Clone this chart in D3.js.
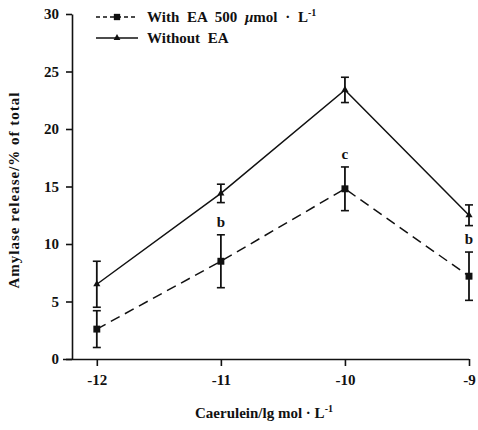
<!DOCTYPE html>
<html>
<head>
<meta charset="utf-8">
<script src="https://cdn.jsdelivr.net/npm/d3@7"></script>
<style>
  body { margin: 0; background: #fff; }
  text { font-family: "Liberation Serif", "Times New Roman", serif; font-weight: bold; fill: #111; }
</style>
</head>
<body>
<div id="chart"></div>
<script>
// Caerulein dose (lg mol/L)
const doses = [-12, -11, -10, -9];

// Amylase release, % of total
const withEA = [2.6, 8.5, 14.8, 7.2];
const withEAErr = [1.6, 2.3, 1.9, 2.1];
const withoutEA = [6.5, 14.4, 23.4, 12.5];
const withoutEAErr = [2.0, 0.8, 1.1, 0.9];

// significance letters over the EA series
const sigLabels = ["", "b", "c", "b"];

const yTicks = [0, 5, 10, 15, 20, 25, 30];
const xTicks = [-12, -11, -10, -9];

const width = 478, height = 430;

const svg = d3.select("#chart").append("svg")
  .attr("width", width)
  .attr("height", height);

const x = d3.scaleLinear().domain([-12.2, -9]).range([72, 469]);
const y = d3.scaleLinear().domain([0, 30]).range([359, 14]);

// y axis
const yAxis = svg.append("g")
  .attr("transform", "translate(72,0)")
  .call(d3.axisLeft(y).tickValues(yTicks).tickSize(6).tickSizeOuter(0).tickPadding(7));
yAxis.selectAll("text").style("font-size", "15px").attr("font-family", null);

// x axis
const xAxis = svg.append("g")
  .attr("transform", "translate(0,359)")
  .call(d3.axisBottom(x).tickValues(xTicks).tickFormat(d => String(d))
    .tickSize(7).tickSizeOuter(0).tickPadding(8));
xAxis.selectAll("text").style("font-size", "15px").attr("font-family", null);
xAxis.select(".domain").attr("d", `M${x.range()[0] - 9},0.5H${x.range()[1]}`);

svg.selectAll(".domain, .tick line").attr("stroke", "#111").attr("stroke-width", 1.6);

// axis titles
svg.append("text")
  .attr("transform", "translate(19,190) rotate(-90)")
  .attr("text-anchor", "middle")
  .style("font-size", "15px")
  .style("letter-spacing", "1px")
  .text("Amylase release/% of total");

const xt = svg.append("text")
  .attr("x", 264).attr("y", 418)
  .attr("text-anchor", "middle")
  .style("font-size", "15px");
xt.append("tspan").text("Caerulein/lg mol \u00b7 L");
xt.append("tspan").attr("dy", -6).style("font-size", "10px").text("-1");

const series = [
  { values: withEA, errs: withEAErr, dash: "10,6", marker: "square" },
  { values: withoutEA, errs: withoutEAErr, dash: null, marker: "triangle" }
];

const line = d3.line().x(d => x(d[0])).y(d => y(d[1]));

series.forEach(s => {
  const pts = doses.map((d, i) => [d, s.values[i], s.errs[i]]);

  svg.append("path")
    .datum(pts)
    .attr("d", line)
    .attr("fill", "none")
    .attr("stroke", "#111")
    .attr("stroke-width", 1.5)
    .attr("stroke-dasharray", s.dash);

  const eb = svg.append("g").selectAll("g").data(pts).join("g");
  eb.append("line")
    .attr("x1", d => x(d[0])).attr("x2", d => x(d[0]))
    .attr("y1", d => y(d[1] - d[2])).attr("y2", d => y(d[1] + d[2]))
    .attr("stroke", "#111").attr("stroke-width", 1.8);
  [-1, 1].forEach(sign => {
    eb.append("line")
      .attr("x1", d => x(d[0]) - 4).attr("x2", d => x(d[0]) + 4)
      .attr("y1", d => y(d[1] + sign * d[2])).attr("y2", d => y(d[1] + sign * d[2]))
      .attr("stroke", "#111").attr("stroke-width", 1.6);
  });

  svg.append("g").selectAll("path").data(pts).join("path")
    .attr("transform", d => `translate(${x(d[0])},${y(d[1])})`)
    .attr("d", d3.symbol(s.marker === "square" ? d3.symbolSquare : d3.symbolTriangle, s.marker === "square" ? 48 : 22))
    .attr("fill", "#111");
});

// significance letters
svg.append("g").selectAll("text")
  .data(doses.map((d, i) => [d, withEA[i] + withEAErr[i], sigLabels[i]]))
  .join("text")
  .attr("x", d => x(d[0]))
  .attr("y", d => y(d[1]) - 8)
  .attr("text-anchor", "middle")
  .style("font-size", "15px")
  .text(d => d[2]);

// legend
const legend = svg.append("g").attr("transform", "translate(96,17)");
const legendItems = [
  { label: "With EA 500 ", dash: "4,3", marker: d3.symbolSquare, size: 40 },
  { label: "Without EA", dash: null, marker: d3.symbolTriangle, size: 20 }
];
legendItems.forEach((it, i) => {
  const g = legend.append("g").attr("transform", `translate(0,${i * 21})`);
  g.append("line").attr("x1", 0).attr("x2", 42).attr("y1", 0).attr("y2", 0)
    .attr("stroke", "#111").attr("stroke-width", 1.5).attr("stroke-dasharray", it.dash);
  g.append("path").attr("transform", "translate(21,0)")
    .attr("d", d3.symbol(it.marker, it.size)).attr("fill", "#111");
  const t = g.append("text").attr("x", 51).attr("y", 5)
    .style("font-size", "15px").style("word-spacing", "4px");
  t.append("tspan").text(it.label);
  if (i === 0) {
    t.append("tspan").style("font-style", "italic").text("\u03bc");
    t.append("tspan").text("mol \u00b7 L");
    t.append("tspan").attr("dy", -6).style("font-size", "10px").text("-1");
  }
});
</script>
</body>
</html>
